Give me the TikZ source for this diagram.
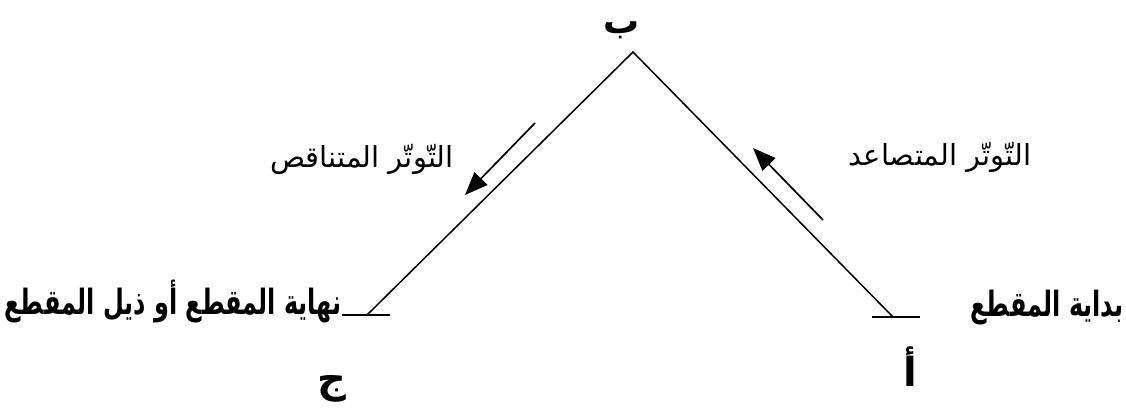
\documentclass[tikz,border=0pt]{standalone}
\usepackage{fontspec}
\usetikzlibrary{arrows.meta}
\TeXXeTstate=1
\newfontfamily\arabicfont[Script=Arabic]{DejaVu Sans}
\newcommand{\tallR}[1]{\scalebox{1}[1.45]{\beginR #1\endR}}
\begin{document}
\begin{tikzpicture}[x=1pt,y=-1pt,
  lineseg/.style={line width=1.5pt},
  flowarrow/.style={line width=1.7pt,-{Triangle[length=23pt,width=18pt]}},
  lbl/.style={inner sep=0pt,anchor=base,font=\arabicfont\fontsize{29}{34}\selectfont},
  endlbl/.style={inner sep=0pt,anchor=base east,font=\arabicfont\bfseries\fontsize{24}{28}\selectfont},
  letter/.style={inner sep=0pt,anchor=base,font=\arabicfont\bfseries\fontsize{40}{46}\selectfont}]
\useasboundingbox (0,0) rectangle (1126,412);
% points
\coordinate (B) at (633,52);
\coordinate (C) at (367,315);
\coordinate (A) at (893,317);
\coordinate (Cl) at (342,315);
\coordinate (Cr) at (390,315);
\coordinate (Al) at (872,317);
\coordinate (Ar) at (920,317);
% lines
\draw[lineseg] (C) -- (B) -- (A);
\draw[lineseg] (Cl) -- (Cr);
\draw[lineseg] (Al) -- (Ar);
% arrows
\coordinate (d1) at (535,123);
\coordinate (d2) at (465,195);
\coordinate (u1) at (823,220);
\coordinate (u2) at (753,148);
\draw[flowarrow] (d1) -- (d2);
\draw[flowarrow] (u1) -- (u2);
% labels
\node[letter,font=\arabicfont\bfseries\fontsize{36}{40}\selectfont] (lB) at (622,34) {\beginR ب\endR};
\node[letter] (lC) at (332,392) {\beginR ج\endR};
\node[letter] (lA) at (910,386) {\beginR أ\endR};
\node[lbl] (dec) at (362,167) {\beginR التّوتّر المتناقص\endR};
\node[lbl] (inc) at (940,165) {\beginR التّوتّر المتصاعد\endR};
\node[endlbl] (end) at (342,314) {\tallR{نهاية المقطع أو ذيل المقطع}};
\node[endlbl] (start) at (1124,316) {\tallR{بداية المقطع}};
\end{tikzpicture}
\end{document}
